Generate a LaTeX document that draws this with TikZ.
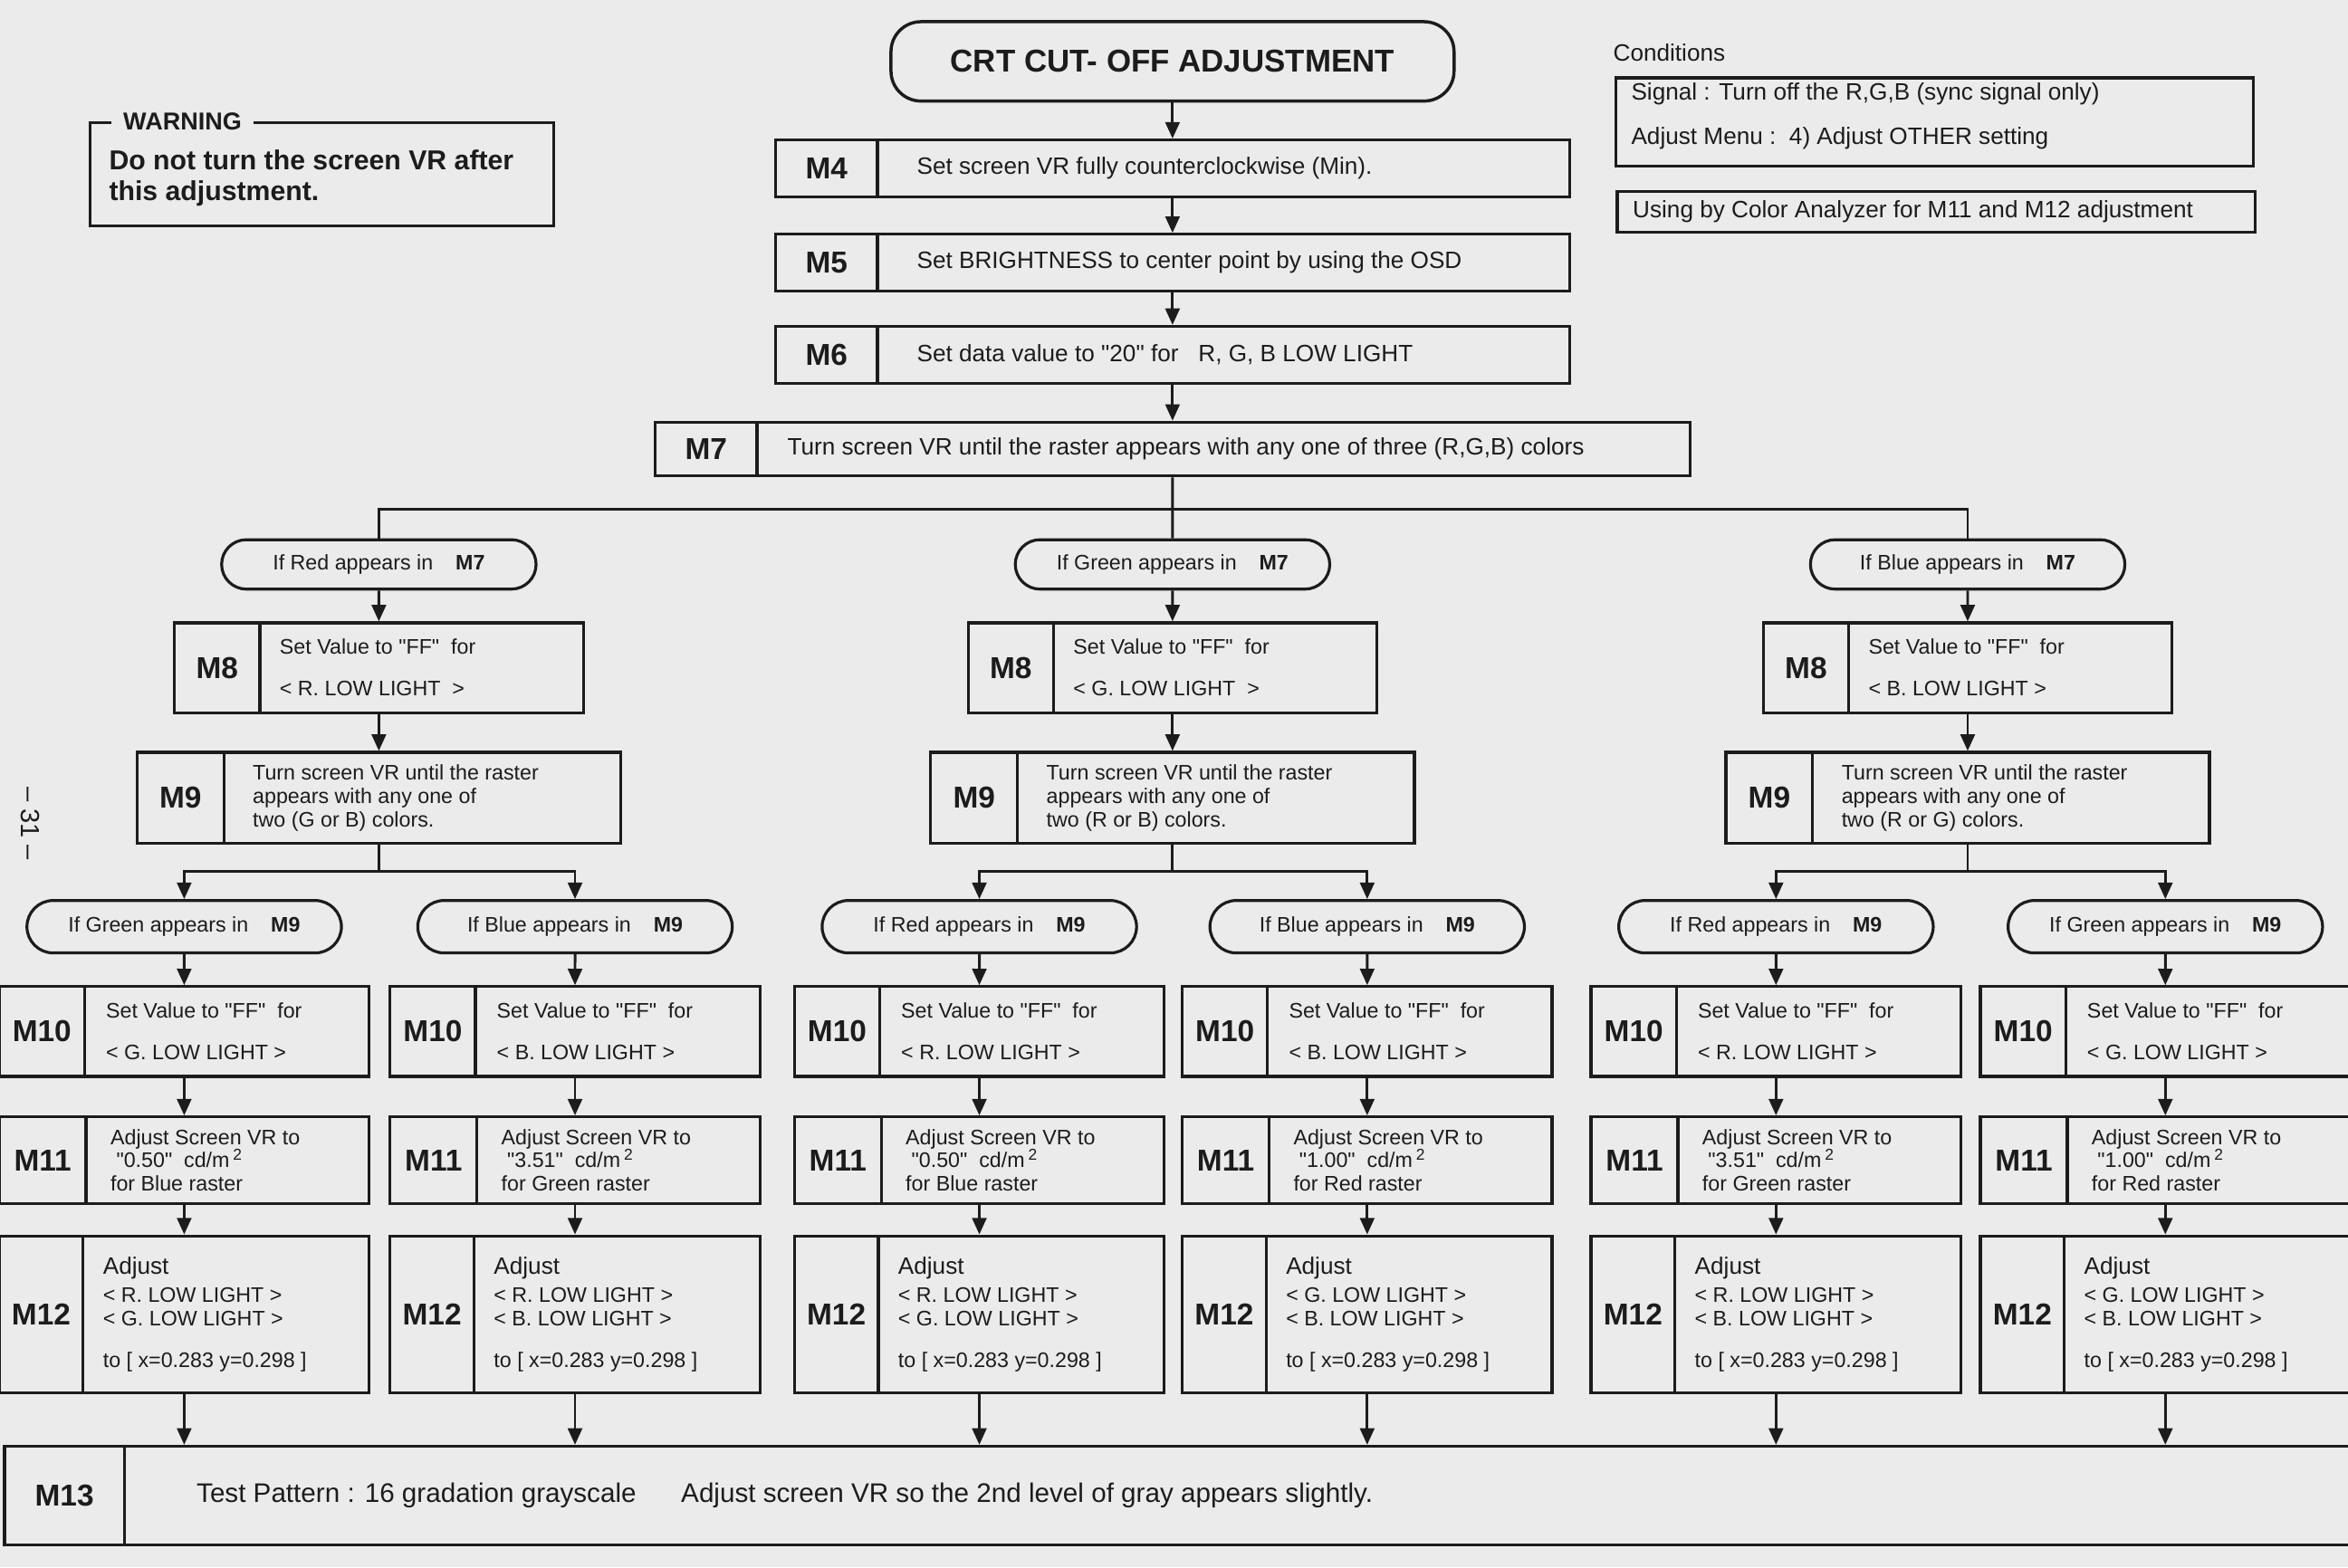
\documentclass[tikz,border=0pt]{standalone}
\usepackage{fontspec}
\setmainfont{Liberation Sans}
\usepackage{tikz}
\usetikzlibrary{arrows.meta,shapes.misc}
\definecolor{paper}{RGB}{235,235,235}
\definecolor{ink}{RGB}{28,28,28}
\newcommand{\qd}[1]{\textquotedbl#1\textquotedbl}

% step box: name, position, width, height, label width, label, text gap, text
\newcommand{\mstep}[8]{%
  \node[stepbox, minimum width=#3cm, minimum height=#4cm] (#1) at (#2) {};
  \node[labcell, minimum width=#5cm, minimum height=#4cm, anchor=west] (#1l) at (#1.west) {#6};
  \node[steptext, anchor=west] (#1t) at ([xshift=#7cm]#1l.east) {#8};
}

\begin{document}
\begin{tikzpicture}[>={Triangle[length=2.2mm, width=1.9mm]},
    every node/.style={text=ink},
    titlebox/.style={draw=ink, line width=1.2pt, fill=paper, rounded corners=0.4cm, minimum width=7.52cm, minimum height=1.06cm, font=\fontsize{12}{14}\selectfont\bfseries},
    stepbox/.style={draw=ink, line width=1.1pt, fill=paper, inner sep=0pt},
    labcell/.style={draw=ink, line width=1.1pt, inner sep=0pt, font=\fontsize{11.5}{13}\selectfont\bfseries},
    steptext/.style={inner sep=0pt, align=left, font=\fontsize{8}{8.8}\selectfont},
    cond/.style={draw=ink, line width=1.1pt, fill=paper, rounded rectangle, minimum width=4.2cm, inner sep=0pt, font=\fontsize{8}{9}\selectfont},
    note/.style={draw=ink, line width=1.1pt, inner sep=0pt},
    flow/.style={->, line width=1pt, draw=ink},
    wire/.style={line width=1pt, draw=ink}
]

    \useasboundingbox (0,0) rectangle (31.36,-20.94);
    \clip (0,0) rectangle (31.36,-20.94);
    \fill[paper] (0,0) rectangle (31.36,-20.94);

    % Page number
    \node[rotate=-90, font=\fontsize{10}{12}\selectfont] (pnum) at (0.40,-11.00) {-- 31 --};

    % Warning
    \node[note, minimum width=6.2cm, minimum height=1.38cm] (warn) at (4.30,-2.33) {};
    \node[fill=paper, anchor=west, inner xsep=0.16cm, inner ysep=0.05cm, font=\fontsize{9.3}{11}\selectfont\bfseries] (warnlab) at ([xshift=0.30cm]warn.north west) {WARNING};
    \node[anchor=west, align=left, inner sep=0pt, font=\fontsize{10.4}{11.6}\selectfont\bfseries] (warntext) at ([xshift=0.27cm, yshift=-0.05cm]warn.west) {Do not turn the screen VR after\\this adjustment.};

    % Conditions
    \node[anchor=west, inner sep=0pt, font=\fontsize{9}{11}\selectfont] (condlab) at (21.54,-0.70) {Conditions};
    \node[note, minimum width=8.52cm, minimum height=1.18cm] (cond1) at (25.84,-1.63) {};
    \node[anchor=west, align=left, inner sep=0pt, font=\fontsize{9}{10.8}\selectfont] (cond1t) at ([xshift=0.22cm, yshift=0.08cm]cond1.west) {Signal : Turn off the R,G,B (sync signal only)\\[6.2pt]Adjust Menu :\ \ 4) Adjust OTHER setting};
    \node[note, minimum width=8.52cm, minimum height=0.54cm] (cond2) at (25.86,-2.83) {};
    \node[anchor=west, inner sep=0pt, font=\fontsize{9}{11}\selectfont] (cond2t) at ([xshift=0.22cm]cond2.west) {Using by Color Analyzer for M11 and M12 adjustment};

    % Title
    \node[titlebox] (title) at (15.66,-0.82) {CRT CUT- OFF ADJUSTMENT};

    % Main column
    \mstep{m4}{15.66,-2.25}{10.6}{0.76}{1.36}{M4}{0.5}{\fontsize{9}{10}\selectfont Set screen VR fully counterclockwise (Min).}
    \mstep{m5}{15.66,-3.51}{10.6}{0.76}{1.36}{M5}{0.5}{\fontsize{9}{10}\selectfont Set BRIGHTNESS to center point by using the OSD}
    \mstep{m6}{15.66,-4.74}{10.6}{0.76}{1.36}{M6}{0.5}{\fontsize{9}{10}\selectfont Set data value to \qd{20} for\ \ \ R, G, B LOW LIGHT}
    \mstep{m7}{15.66,-6.00}{13.82}{0.72}{1.36}{M7}{0.38}{\fontsize{9}{10}\selectfont Turn screen VR until the raster appears with any one of three (R,G,B) colors}

    % First branch
    \node[cond, minimum height=0.66cm] (ifR7) at (5.06,-7.54) {If Red appears in\hspace{0.3cm}\textbf{M7}};
    \node[cond, minimum height=0.66cm] (ifG7) at (15.66,-7.54) {If Green appears in\hspace{0.3cm}\textbf{M7}};
    \node[cond, minimum height=0.66cm] (ifB7) at (26.28,-7.54) {If Blue appears in\hspace{0.3cm}\textbf{M7}};

    \mstep{m8r}{5.06,-8.92}{5.46}{1.2}{1.14}{M8}{0.24}{Set Value to \qd{FF}\ \ for\\[7pt]< R. LOW LIGHT\ \ >}
    \mstep{m8g}{15.66,-8.92}{5.46}{1.2}{1.14}{M8}{0.24}{Set Value to \qd{FF}\ \ for\\[7pt]< G. LOW LIGHT\ \ >}
    \mstep{m8b}{26.28,-8.92}{5.46}{1.2}{1.14}{M8}{0.24}{Set Value to \qd{FF}\ \ for\\[7pt]< B. LOW LIGHT >}

    \mstep{m9r}{5.06,-10.66}{6.46}{1.22}{1.16}{M9}{0.36}{Turn screen VR until the raster\\appears with any one of\\two (G or B) colors.}
    \mstep{m9g}{15.66,-10.66}{6.46}{1.22}{1.16}{M9}{0.36}{Turn screen VR until the raster\\appears with any one of\\two (R or B) colors.}
    \mstep{m9b}{26.28,-10.66}{6.46}{1.22}{1.16}{M9}{0.36}{Turn screen VR until the raster\\appears with any one of\\two (R or G) colors.}

    % Second branch
    \node[cond, minimum height=0.70cm] (ifG9r) at (2.46,-12.38) {If Green appears in\hspace{0.3cm}\textbf{M9}};
    \node[cond, minimum height=0.70cm] (ifB9r) at (7.68,-12.38) {If Blue appears in\hspace{0.3cm}\textbf{M9}};
    \node[cond, minimum height=0.70cm] (ifR9g) at (13.08,-12.38) {If Red appears in\hspace{0.3cm}\textbf{M9}};
    \node[cond, minimum height=0.70cm] (ifB9g) at (18.26,-12.38) {If Blue appears in\hspace{0.3cm}\textbf{M9}};
    \node[cond, minimum height=0.70cm] (ifR9b) at (23.72,-12.38) {If Red appears in\hspace{0.3cm}\textbf{M9}};
    \node[cond, minimum height=0.70cm] (ifG9b) at (28.92,-12.38) {If Green appears in\hspace{0.3cm}\textbf{M9}};

    % M10
    \mstep{m10rg}{2.46,-13.78}{4.94}{1.2}{1.14}{M10}{0.26}{Set Value to \qd{FF}\ \ for\\[7pt]< G. LOW LIGHT >}
    \mstep{m10rb}{7.68,-13.78}{4.94}{1.2}{1.14}{M10}{0.26}{Set Value to \qd{FF}\ \ for\\[7pt]< B. LOW LIGHT >}
    \mstep{m10gr}{13.08,-13.78}{4.94}{1.2}{1.14}{M10}{0.26}{Set Value to \qd{FF}\ \ for\\[7pt]< R. LOW LIGHT >}
    \mstep{m10gb}{18.26,-13.78}{4.94}{1.2}{1.14}{M10}{0.26}{Set Value to \qd{FF}\ \ for\\[7pt]< B. LOW LIGHT >}
    \mstep{m10br}{23.72,-13.78}{4.94}{1.2}{1.14}{M10}{0.26}{Set Value to \qd{FF}\ \ for\\[7pt]< R. LOW LIGHT >}
    \mstep{m10bg}{28.92,-13.78}{4.94}{1.2}{1.14}{M10}{0.26}{Set Value to \qd{FF}\ \ for\\[7pt]< G. LOW LIGHT >}

    % M11
    \mstep{m11rg}{2.46,-15.50}{4.94}{1.16}{1.16}{M11}{0.30}{Adjust Screen VR to\\\ \qd{0.50}\ \ cd/m\,\textsuperscript{2}\\for Blue raster}
    \mstep{m11rb}{7.68,-15.50}{4.94}{1.16}{1.16}{M11}{0.30}{Adjust Screen VR to\\\ \qd{3.51}\ \ cd/m\,\textsuperscript{2}\\for Green raster}
    \mstep{m11gr}{13.08,-15.50}{4.94}{1.16}{1.16}{M11}{0.30}{Adjust Screen VR to\\\ \qd{0.50}\ \ cd/m\,\textsuperscript{2}\\for Blue raster}
    \mstep{m11gb}{18.26,-15.50}{4.94}{1.16}{1.16}{M11}{0.30}{Adjust Screen VR to\\\ \qd{1.00}\ \ cd/m\,\textsuperscript{2}\\for Red raster}
    \mstep{m11br}{23.72,-15.50}{4.94}{1.16}{1.16}{M11}{0.30}{Adjust Screen VR to\\\ \qd{3.51}\ \ cd/m\,\textsuperscript{2}\\for Green raster}
    \mstep{m11bg}{28.92,-15.50}{4.94}{1.16}{1.16}{M11}{0.30}{Adjust Screen VR to\\\ \qd{1.00}\ \ cd/m\,\textsuperscript{2}\\for Red raster}

    % M12
    \mstep{m12rg}{2.46,-17.56}{4.94}{2.1}{1.12}{M12}{0.24}{{\fontsize{9}{9}\selectfont Adjust}\\[2pt]< R. LOW LIGHT >\\< G. LOW LIGHT >\\[7pt]to [ x=0.283 y=0.298 ]}
    \mstep{m12rb}{7.68,-17.56}{4.94}{2.1}{1.12}{M12}{0.24}{{\fontsize{9}{9}\selectfont Adjust}\\[2pt]< R. LOW LIGHT >\\< B. LOW LIGHT >\\[7pt]to [ x=0.283 y=0.298 ]}
    \mstep{m12gr}{13.08,-17.56}{4.94}{2.1}{1.12}{M12}{0.24}{{\fontsize{9}{9}\selectfont Adjust}\\[2pt]< R. LOW LIGHT >\\< G. LOW LIGHT >\\[7pt]to [ x=0.283 y=0.298 ]}
    \mstep{m12gb}{18.26,-17.56}{4.94}{2.1}{1.12}{M12}{0.24}{{\fontsize{9}{9}\selectfont Adjust}\\[2pt]< G. LOW LIGHT >\\< B. LOW LIGHT >\\[7pt]to [ x=0.283 y=0.298 ]}
    \mstep{m12br}{23.72,-17.56}{4.94}{2.1}{1.12}{M12}{0.24}{{\fontsize{9}{9}\selectfont Adjust}\\[2pt]< R. LOW LIGHT >\\< B. LOW LIGHT >\\[7pt]to [ x=0.283 y=0.298 ]}
    \mstep{m12bg}{28.92,-17.56}{4.94}{2.1}{1.12}{M12}{0.24}{{\fontsize{9}{9}\selectfont Adjust}\\[2pt]< G. LOW LIGHT >\\< B. LOW LIGHT >\\[7pt]to [ x=0.283 y=0.298 ]}

    % M13
    \mstep{m13}{16.03,-19.98}{31.94}{1.32}{1.6}{M13}{0.94}{\fontsize{10.2}{12}\selectfont Test Pattern : 16 gradation grayscale\hspace{0.6cm}Adjust screen VR so the 2nd level of gray appears slightly.}

    % Connectors, main column
    \draw[flow] (title) -- (m4);
    \draw[flow] (m4) -- (m5);
    \draw[flow] (m5) -- (m6);
    \draw[flow] (m6) -- (m7);

    % Connectors, first branch
    \coordinate (br7) at (15.66,-6.80);
    \draw[wire] (m7) -- (ifG7);
    \draw[wire] (ifR7.north) |- (br7) -| (ifB7.north);
    \draw[flow] (ifR7) -- (m8r);
    \draw[flow] (ifG7) -- (m8g);
    \draw[flow] (ifB7) -- (m8b);
    \draw[flow] (m8r) -- (m9r);
    \draw[flow] (m8g) -- (m9g);
    \draw[flow] (m8b) -- (m9b);

    % Connectors, second branch
    \coordinate (br9r) at (5.06,-11.64);
    \coordinate (br9g) at (15.66,-11.64);
    \coordinate (br9b) at (26.28,-11.64);
    \draw[wire] (m9r) -- (br9r);
    \draw[wire] (m9g) -- (br9g);
    \draw[wire] (m9b) -- (br9b);
    \draw[flow] (br9r) -| (ifG9r.north);
    \draw[flow] (br9r) -| (ifB9r.north);
    \draw[flow] (br9g) -| (ifR9g.north);
    \draw[flow] (br9g) -| (ifB9g.north);
    \draw[flow] (br9b) -| (ifR9b.north);
    \draw[flow] (br9b) -| (ifG9b.north);

    % Connectors, lower rows
    \draw[flow] (ifG9r) -- (m10rg);
    \draw[flow] (ifB9r) -- (m10rb);
    \draw[flow] (ifR9g) -- (m10gr);
    \draw[flow] (ifB9g) -- (m10gb);
    \draw[flow] (ifR9b) -- (m10br);
    \draw[flow] (ifG9b) -- (m10bg);
    \draw[flow] (m10rg) -- (m11rg);
    \draw[flow] (m10rb) -- (m11rb);
    \draw[flow] (m10gr) -- (m11gr);
    \draw[flow] (m10gb) -- (m11gb);
    \draw[flow] (m10br) -- (m11br);
    \draw[flow] (m10bg) -- (m11bg);
    \draw[flow] (m11rg) -- (m12rg);
    \draw[flow] (m11rb) -- (m12rb);
    \draw[flow] (m11gr) -- (m12gr);
    \draw[flow] (m11gb) -- (m12gb);
    \draw[flow] (m11br) -- (m12br);
    \draw[flow] (m11bg) -- (m12bg);
    \draw[flow] (m12rg.south) -- (m12rg.south |- m13.north);
    \draw[flow] (m12rb.south) -- (m12rb.south |- m13.north);
    \draw[flow] (m12gr.south) -- (m12gr.south |- m13.north);
    \draw[flow] (m12gb.south) -- (m12gb.south |- m13.north);
    \draw[flow] (m12br.south) -- (m12br.south |- m13.north);
    \draw[flow] (m12bg.south) -- (m12bg.south |- m13.north);

\end{tikzpicture}
\end{document}
